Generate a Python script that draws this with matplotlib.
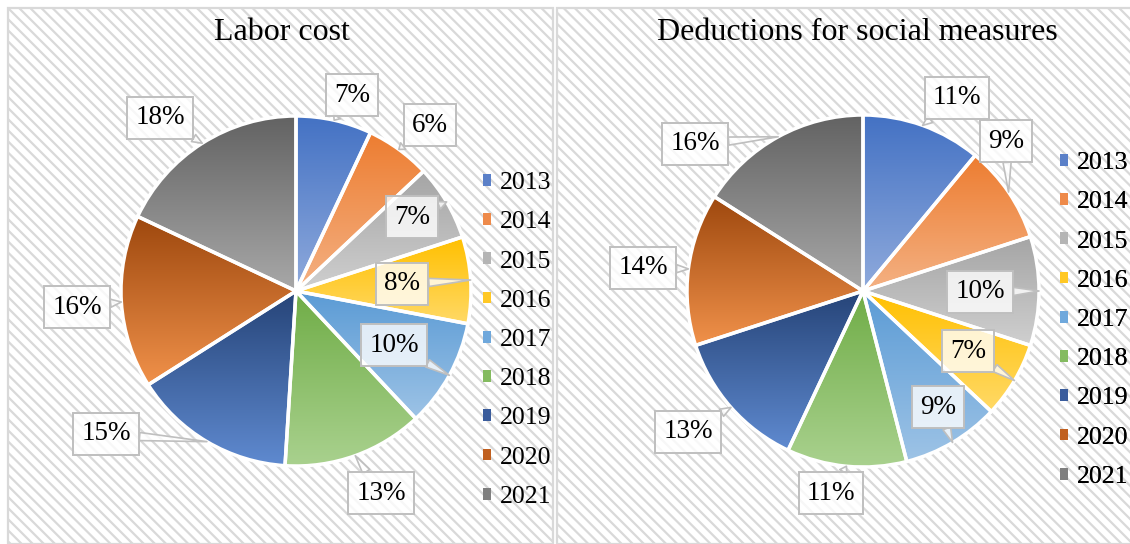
import numpy as np
import matplotlib
matplotlib.use("Agg")
import matplotlib.pyplot as plt
from matplotlib.patches import Rectangle, Patch
from matplotlib.colors import to_rgba

years = ["2013", "2014", "2015", "2016", "2017", "2018", "2019", "2020", "2021"]
labor_cost = [7, 6, 7, 8, 10, 13, 15, 16, 18]
social_deductions = [11, 9, 10, 7, 9, 11, 13, 14, 16]
titles = ["Labor cost", "Deductions for social measures"]

# gradient colours per year: top (shade) -> bottom (tint)
top_colors = ["#4472C4", "#ED7D31", "#A5A5A5", "#FFC000", "#5B9BD5",
              "#70AD47", "#264478", "#9E480E", "#636363"]
bottom_colors = ["#8FAADC", "#F4B183", "#CFCFCF", "#FFD966", "#9DC3E6",
                 "#A9D18E", "#5F8AD0", "#F0914A", "#A8A8A8"]
legend_colors = ["#5B80C8", "#EE8A4A", "#B5B5B5", "#FFC825", "#6FA8DC",
                 "#84BB60", "#3A5C9C", "#C06020", "#7F7F7F"]

W, H = 1130, 544
plt.rcParams["hatch.linewidth"] = 1.6
plt.rcParams["hatch.color"] = "#ececec"
SERIF = ["Liberation Serif", "DejaVu Serif"]

# layout in pixels (y measured from top)
panels = [(8, 8, 545), (557, 8, 580)]
centers = [(296, 291), (863, 291)]
radii = [175, 176]
label_pos = [
    [(352, 95), (430, 125), (412, 217), (402, 284), (394, 345),
     (381, 493), (106, 434), (77, 307), (160, 118)],
    [(957, 98), (1006, 141), (980, 292), (968, 351), (938, 407),
     (831, 493), (688, 432), (643, 268), (695, 144)],
]
title_pos = [(282, 32), (857, 32)]
legend_anchor = [(483, 340), (1060, 320)]


def py(y):
    return H - y


fig = plt.figure(figsize=(W / 100, H / 100), dpi=100)
ax = fig.add_axes([0, 0, 1, 1])

for (x0, y0, w) in panels:
    ax.add_patch(Rectangle((x0, 0), w, H - y0, facecolor="white",
                           edgecolor="#d9d9d9", lw=1.6, hatch="\\\\\\",
                           zorder=0))

for k, values in enumerate([labor_cost, social_deductions]):
    cx, cy = centers[k]
    r = radii[k]
    wedges, _ = ax.pie(values, startangle=90, counterclock=False,
                       center=(cx, py(cy)), radius=r,
                       wedgeprops=dict(edgecolor="white", linewidth=2.5,
                                       facecolor="none", zorder=3))
    for i, wdg in enumerate(wedges):
        bb = wdg.get_path().get_extents()
        c0 = np.array(to_rgba(top_colors[i]))
        c1 = np.array(to_rgba(bottom_colors[i]))
        t = np.linspace(0, 1, 64)[:, None]
        img = (c0 * (1 - t) + c1 * t)[:, None, :]
        im = ax.imshow(img, extent=(bb.x0, bb.x1, bb.y0, bb.y1),
                       origin="upper", aspect="auto", zorder=2,
                       interpolation="bilinear")
        im.set_clip_path(wdg)

    # callout labels pointing at the middle of each slice's arc
    total = sum(values)
    cum = np.cumsum([0] + values[:-1])
    for i, v in enumerate(values):
        ang = np.deg2rad(90 - 360 * (cum[i] + v / 2) / total)
        target = (cx + r * np.cos(ang), py(cy) + r * np.sin(ang))
        lx, ly = label_pos[k][i]
        ax.annotate(f"{v}%", xy=target, xytext=(lx, py(ly)),
                    ha="center", va="center", fontsize=19.5, family=SERIF,
                    zorder=5,
                    bbox=dict(boxstyle="square,pad=0.3", fc=(1, 1, 1, 0.8),
                              ec="#bfbfbf", lw=1.4),
                    arrowprops=dict(arrowstyle="wedge,tail_width=0.3,shrink_factor=0.5",
                                    fc=(1, 1, 1, 0.8), ec="#bfbfbf", lw=1.2,
                                    shrinkA=0, shrinkB=0))

    tx, ty = title_pos[k]
    ax.text(tx, py(ty), titles[k], ha="center", va="center",
            fontsize=23, family=SERIF, zorder=5)

    handles = [Patch(facecolor=c, edgecolor="none") for c in legend_colors]
    lx, ly = legend_anchor[k]
    leg = ax.legend(handles, years, loc="center left",
                    bbox_to_anchor=(lx / W, 1 - ly / H), frameon=False,
                    prop=dict(family=SERIF, size=18.5), handlelength=0.33,
                    handleheight=0.33, handletextpad=0.33,
                    labelspacing=0.67, borderpad=0, borderaxespad=0)
    ax.add_artist(leg)

ax.set_xlim(0, W)
ax.set_ylim(0, H)
ax.set_aspect("equal")
ax.axis("off")

fig.savefig("out.png", dpi=100)
